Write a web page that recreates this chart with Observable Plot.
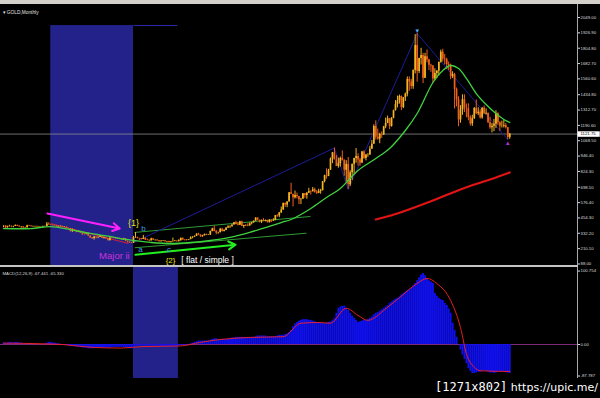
<!DOCTYPE html>
<html><head><meta charset="utf-8">
<script src="https://cdn.jsdelivr.net/npm/d3@7"></script>
<script src="https://cdn.jsdelivr.net/npm/@observablehq/plot@0.6"></script>
<style>
html,body{margin:0;padding:0;background:#000;}
body{width:600px;height:398px;overflow:hidden;position:relative;font-family:"Liberation Sans",Arial,sans-serif;}
#topbar{position:absolute;left:0;top:0;width:600px;height:4px;background:#d4d1cb;}
#main{position:absolute;left:0;top:4px;}
#sep{position:absolute;left:0;top:265px;width:578px;height:2px;background:#c4c4c4;}
#macd{position:absolute;left:0;top:267px;}
#foot{position:absolute;right:2px;top:378px;height:16px;line-height:16px;color:#fff;white-space:nowrap;}
#foot .a{font-family:"DejaVu Sans Mono",monospace;font-size:12px;}
#foot .b{font-family:"DejaVu Sans",sans-serif;font-size:11px;}
svg{overflow:visible;}
</style></head>
<body>
<div id="topbar"></div>
<div id="main"></div>
<div id="sep"></div>
<div id="macd"></div>
<div id="foot"><span class="a">[1271x802]</span><span class="b"> https://upic.me/</span></div>
<script>
// ---------- DATA (monthly GOLD bars, index 0 = Mar 1994 ... 257 = Aug 2015) ----------
const firstMonth = "1994-03";
const closes = [
 391,376,387,388,384,386,395,389,383,383,
 375,376,392,389,385,387,383,383,384,383,387,387,
 405,400,396,392,392,382,385,387,379,379,371,369,
 345,358,348,340,345,334,326,325,332,311,296,290,
 302,297,301,310,293,296,288,273,293,292,294,288,
 287,287,280,286,268,261,255,254,299,299,291,290,
 283,293,278,275,272,288,277,278,273,264,270,273,
 265,267,258,264,267,270,265,273,293,279,275,277,
 282,296,301,308,326,318,304,312,323,316,317,347,
 367,347,334,336,364,346,354,375,385,386,398,416,
 402,396,424,386,394,395,391,408,416,429,453,438,
 423,434,429,435,417,436,429,433,473,470,495,517,
 569,557,582,654,643,614,632,623,599,604,646,632,
 651,665,662,679,659,650,665,672,743,789,783,834,
 923,972,916,864,887,928,913,833,880,718,814,882,
 927,943,916,891,979,927,955,955,1001,1040,1182,1096,
 1081,1118,1113,1179,1207,1244,1181,1248,1307,1357,1385,1421,
 1332,1411,1439,1556,1536,1500,1628,1826,1620,1722,1746,1565,
 1737,1711,1669,1664,1560,1604,1622,1692,1773,1719,1713,1675,
 1663,1578,1595,1476,1393,1234,1312,1395,1327,1323,1253,1202,
 1244,1326,1284,1296,1250,1327,1282,1287,1211,1171,1183,1199,
 1283,1212,1183,1184,1190,1172,1095,1121.75];
const highs = [
 392,392,389,396,390,389,398,397,392,386,
 384,380,396,396,393,390,389,389,387,387,389,390,
 418,416,401,397,395,392,388,391,388,384,384,373,
 370,366,358,349,350,346,335,331,335,335,311,298,
 308,302,303,314,310,301,298,291,299,302,299,296,
 293,292,289,292,291,270,264,259,308,338,302,292,
 292,316,296,286,280,293,290,281,280,274,272,275,
 273,268,269,264,294,274,272,281,293,293,280,281,
 283,304,305,311,328,332,321,316,326,326,322,350,
 373,390,355,341,372,371,361,377,392,392,400,418,
 428,417,428,428,396,399,408,415,421,430,456,456,
 429,438,449,437,433,441,439,448,474,481,497,541,
 573,575,584,655,730,640,668,652,625,610,649,649,
 657,690,670,697,691,673,683,682,745,795,845,841,
 931,975,1011,951,930,939,988,917,910,935,830,881,
 929,1006,965,929,984,989,960,966,1024,1070,1195,1227,
 1161,1128,1139,1183,1249,1265,1245,1252,1312,1388,1424,1432,
 1425,1411,1448,1576,1577,1557,1632,1913,1921,1725,1804,1764,
 1764,1791,1717,1677,1666,1641,1627,1694,1789,1796,1755,1725,
 1695,1678,1617,1605,1488,1418,1348,1434,1434,1361,1362,1267,
 1272,1332,1392,1331,1315,1332,1345,1322,1287,1255,1206,1238,
 1307,1291,1219,1224,1232,1205,1175,1125];
const lows = [
 376,370,374,382,377,376,386,386,380,372,
 371,372,374,388,383,382,381,379,381,381,381,384,
 386,395,393,389,389,380,380,384,378,378,370,366,
 344,340,345,336,338,333,315,318,320,306,291,283,
 278,289,290,299,291,286,286,272,272,288,290,285,
 284,282,278,278,267,256,252,251,252,292,287,276,
 280,282,276,273,267,271,275,270,268,263,263,267,
 262,255,255,255,263,265,263,265,270,276,271,272,
 276,281,289,300,307,314,301,301,311,313,315,317,
 344,344,320,325,337,342,343,353,370,370,379,398,
 399,391,393,386,371,386,384,387,399,412,428,432,
 415,410,425,423,414,414,418,427,433,459,456,489,
 516,538,536,581,640,542,605,606,560,561,606,611,
 603,649,636,662,652,641,647,643,669,733,763,785,
 833,886,917,863,850,859,907,786,740,681,705,752,
 802,890,866,866,886,920,908,937,952,1001,1043,1075,
 1073,1045,1088,1113,1164,1204,1157,1177,1243,1306,1330,1360,
 1308,1324,1381,1418,1462,1477,1478,1600,1535,1603,1671,1523,
 1564,1688,1627,1613,1527,1547,1565,1584,1686,1695,1672,1635,
 1626,1554,1563,1321,1338,1180,1208,1271,1292,1251,1227,1185,
 1182,1238,1277,1268,1240,1240,1281,1273,1206,1160,1131,1141,
 1167,1191,1142,1170,1170,1162,1077,1080];
const currentPrice = 1121.75;
const priceTicks = [2049.00,1926.90,1804.80,1682.70,1560.60,1434.80,1312.70,1190.60,1068.50,946.40,824.30,698.50,576.40,454.30,332.20,210.10,88.00];

// green moving average
const maIdx = [0,14,24,34,44,54,62,66,75,85,95,105,115,125,133,141,146,151,156,164,171,180,189,196,204,210,218,223,227,231,235,240,245,250,254,257];
const maVal = [370,370,386,362,331,307,283,275,259,251,259,275,299,339,378,418,442,482,530,617,689,832,927,1007,1150,1285,1532,1627,1667,1643,1564,1444,1357,1285,1238,1214];
// red long moving average
const ma200Idx = [189,201.5,216.7,232,247,257];
const ma200Val = [442,498,585,681,760,816];
// zigzag swing points
const zigzagIdx = [65,168,175,210,256];
const zigzagKind = ["low","high","low","high","low"];

// MACD histogram (chart units) one per month
const macdHist = [
 2,2,2,3,3,2,3,3,2,2,
 1,1,1,1,1,1,0,0,0,0,0,1,
 2,3,3,2,2,1,1,0,0,-1,-1,-2,
 -3,-3,-3,-4,-4,-4,-5,-5,-5,-6,-6,-6,
 -6,-5,-5,-5,-5,-5,-5,-5,-5,-4,-4,-4,
 -4,-4,-4,-4,-5,-5,-6,-6,-5,-3,-2,-2,
 -2,-2,-2,-2,-2,-2,-2,-2,-2,-2,-3,-3,
 -3,-3,-3,-3,-3,-3,-3,-2,-1,-1,-1,-1,
 0,1,2,3,4,5,5,5,5,5,5,6,
 7,8,8,7,7,7,7,7,8,8,9,9,
 10,10,10,10,10,10,10,10,10,10,11,12,
 12,12,12,12,11,11,11,11,11,12,13,13,
 13,14,15,17,20,25,29,31,33,34,35,35,
 35,34,34,33,32,31,31,30,30,30,30,31,
 32,34,37,44,51,53,54,54,51,48,44,40,
 37,34,31,32,33,34,34,35,37,39,42,44,
 45,47,49,51,53,55,58,60,62,64,65,67,
 70,72,74,76,77,79,83,86,90,94,98,100,
 97,93,90,88,86,72,68,65,63,62,58,55,
 50,44,30,20,10,0,-8,-15,-21,-27,-34,-38,
 -41,-41,-40,-39,-39,-38,-37,-38,-39,-40,-40,-41,
 -40,-39,-39,-39,-39,-40,-40,-41];
const signalIdx = [0,20,30,45,60,70,90,100,110,125,142,151,160,166,174,180,185,188,193,201,210,215,220,227,232,235,239,242,257];
const signalVal = [2,1,0,-4,-5,-3,-2,3,7,10,11,30,31,30,51,41,34,37,48,66,86,93,86,62,24,-13,-32,-37,-38];
const macdTickValues = [103.5, 0, -44.4];
const macdTickLabels = ["100.754", "0.00", "-87.787"];
const macdTitle = "MACD(12,26,9) -67.441 -65.330";
const chartTitle = "\u25BE GOLD,Monthly";

// annotations (bar index, price)
const shadeMain = [{i1: 24, i2: 66, top: 1985}];
const shadeTopLine = [{i1: 66, i2: 88.3, p: 1985}];
const shadeMacd = [{i1: 66, i2: 88.8}];
const trendLines = [
 {i1: 66.5, p1: 339, i2: 155.8, p2: 466, color: "#2f9a35"},
 {i1: 66.6, p1: 217, i2: 153.8, p2: 333, color: "#2f9a35"},
 {i1: 24, p1: 410, i2: 63.5, p2: 251, color: "#d02040"}
];
const arrows = [
 {i1: 22.3, p1: 490, i2: 59, p2: 370, color: "#ff20ff"},
 {i1: 67, p1: 161, i2: 117.8, p2: 241, color: "#22ee22"}
];
const labels = [
 {i: 66, p: 410, text: "{1}", color: "#e8e020", size: 9},
 {i: 71, p: 370, text: "b", color: "#3a9fe8", size: 8},
 {i: 69.5, p: 203, text: "a", color: "#3a9fe8", size: 8},
 {i: 84, p: 203, text: "c", color: "#3a9fe8", size: 8},
 {i: 56.3, p: 148, text: "Major ii", color: "#cc33dd", size: 9.5},
 {i: 84.8, p: 116, text: "{2}", color: "#e8e020", size: 8},
 {i: 103.6, p: 116, text: "[ flat / simple ]", color: "#ffffff", size: 8.5}
];

// ---------- BUILD ----------
const xDomain = [-1.52, 291.4];
const yDomain = [76, 2152.4];
const bars = closes.map((c, i) => ({i, o: i > 0 ? closes[i - 1] : c, h: highs[i], l: lows[i], c}));
const candleColor = d => d.c >= d.o ? "#f2b624" : "#f06018";
const ma = maIdx.map((i, k) => ({i, v: maVal[k]}));
const ma200 = ma200Idx.map((i, k) => ({i, v: ma200Val[k]}));
const zig = zigzagIdx.map((i, k) => ({i, v: zigzagKind[k] === "low" ? lows[i] : highs[i], kind: zigzagKind[k]}));
const peaks = zig.filter(d => d.i === 210);
const lastLow = zig.filter(d => d.i === 256);
const signal = signalIdx.map((i, k) => ({i, v: signalVal[k]}));
const tickFont = 4.3;
const axisColor = "#a8a8a8";
const labelBoxWidth = 11.3; // in bar units (~22 px)

const mainPlot = Plot.plot({
  width: 600, height: 261,
  marginTop: 0, marginBottom: 0, marginLeft: 0, marginRight: 23,
  style: {background: "transparent", overflow: "visible", fontFamily: "Liberation Sans, Arial, sans-serif"},
  x: {domain: xDomain, axis: null},
  y: {domain: yDomain},
  marks: [
    Plot.rect(shadeMain, {x1: "i1", x2: "i2", y1: () => yDomain[0], y2: "top", fill: "#22228a", clip: true}),
    Plot.link(shadeTopLine, {x1: "i1", x2: "i2", y1: "p", y2: "p", stroke: "#2a2ab0", strokeWidth: 1}),
    Plot.ruleY([currentPrice], {stroke: "#8a8a8a", strokeWidth: 0.8}),
    Plot.link(trendLines, {x1: "i1", y1: "p1", x2: "i2", y2: "p2", stroke: "color", strokeWidth: 1}),
    Plot.line(zig, {x: "i", y: "v", stroke: "#1c1c9a", strokeWidth: 1}),
    Plot.ruleX(bars, {x: "i", y1: "l", y2: "h", stroke: candleColor, strokeWidth: 1}),
    Plot.ruleX(bars, {x: "i", y1: "o", y2: "c", stroke: candleColor, strokeWidth: 1.7}),
    Plot.line(ma, {x: "i", y: "v", stroke: "#3fd23f", strokeWidth: 1.3, curve: "catmull-rom"}),
    Plot.line(ma200, {x: "i", y: "v", stroke: "#e01414", strokeWidth: 2.2, curve: "catmull-rom"}),
    Plot.arrow(arrows, {x1: "i1", y1: "p1", x2: "i2", y2: "p2", stroke: "color", strokeWidth: 2, headLength: 6}),
    Plot.text(labels, {x: "i", y: "p", text: "text", fill: "color", fontSize: "size"}),
    Plot.text(peaks, {x: "i", y: "v", text: () => "\u25BC", fill: "#5aa8ff", fontSize: 6, dy: -3}),
    Plot.text(lastLow, {x: "i", y: "v", text: () => "\u25B2", fill: "#b030e0", fontSize: 6, dy: 3}),
    Plot.ruleX([xDomain[1]], {stroke: axisColor}),
    Plot.axisY(priceTicks, {anchor: "right", tickFormat: d => d.toFixed(2), tickSize: 2, tickPadding: 1, fontSize: tickFont, color: "#dcdcdc", label: null}),
    Plot.link([currentPrice], {x1: () => xDomain[1], x2: () => xDomain[1] + labelBoxWidth, y1: d => d, y2: d => d, stroke: "#ffffff", strokeWidth: 5.5}),
    Plot.text([currentPrice], {x: () => xDomain[1], y: d => d, text: d => d.toFixed(2), dx: 3, textAnchor: "start", fill: "#000", fontSize: tickFont}),
    Plot.text([chartTitle], {frameAnchor: "top-left", text: d => d, dx: 2, dy: 6, textAnchor: "start", fill: "#e0e0e0", fontSize: 4.8})
  ]
});
document.getElementById("main").appendChild(mainPlot);

const macdPlot = Plot.plot({
  width: 600, height: 111,
  marginTop: 0, marginBottom: 0, marginLeft: 0, marginRight: 23,
  style: {background: "transparent", overflow: "visible", fontFamily: "Liberation Sans, Arial, sans-serif"},
  x: {domain: xDomain, axis: null},
  y: {domain: [-47.9, 108.5]},
  marks: [
    Plot.rect(shadeMacd, {x1: "i1", x2: "i2", fill: "#22228a"}),
    Plot.ruleY([0], {stroke: "#7d2a7d", strokeWidth: 1}),
    Plot.ruleX(macdHist, {x: (d, i) => i, y1: () => 0, y2: d => d, stroke: "#1010ee", strokeWidth: 1.9}),
    Plot.line(signal, {x: "i", y: "v", stroke: "#ff2020", strokeWidth: 0.9, curve: "monotone-x"}),
    Plot.ruleX([xDomain[1]], {stroke: axisColor}),
    Plot.axisY(macdTickValues, {anchor: "right", tickFormat: d => macdTickLabels[macdTickValues.indexOf(d)], tickSize: 2, tickPadding: 1, fontSize: tickFont, color: "#dcdcdc", label: null}),
    Plot.text([macdTitle], {frameAnchor: "top-left", text: d => d, dx: 2, dy: 4.5, textAnchor: "start", fill: "#d8d8d8", fontSize: 4.3})
  ]
});
document.getElementById("macd").appendChild(macdPlot);
</script>
</body></html>
